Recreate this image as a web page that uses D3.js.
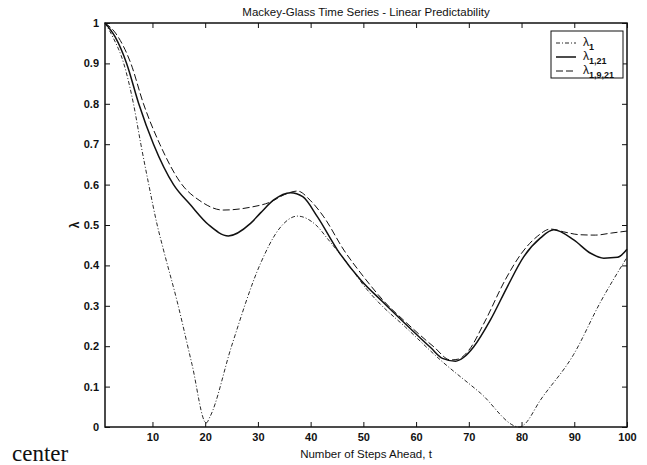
<!DOCTYPE html>
<html>
<head>
<meta charset="utf-8">
<script src="https://cdn.jsdelivr.net/npm/d3@7"></script>
<style>
  body { margin: 0; background: #fff; }
  text { font-family: 'Liberation Sans', Arial, sans-serif; fill: #111; }
</style>
</head>
<body>
<svg></svg>
<script>
// Dimensions
var width = 647;
var height = 465;
var plotLeft = 105, plotRight = 627, plotTop = 23, plotBottom = 427;

// Data
var xTicks = [10, 20, 30, 40, 50, 60, 70, 80, 90, 100];
var yTicks = [0, 0.1, 0.2, 0.3, 0.4, 0.5, 0.6, 0.7, 0.8, 0.9, 1];

var lam1T = [1, 2.5, 4.55, 6.4, 7.8, 9.3, 10.9, 12.1, 14.7, 17.5, 20.2, 20.9, 25, 30.5, 34, 37.5, 41, 43.4, 47.5, 50.7, 53, 58, 64.6, 72.2, 79.6, 80.4, 83.6, 89.9, 95, 100];
var lam1V = [1, 0.965, 0.9, 0.8, 0.7, 0.6, 0.5, 0.438, 0.31, 0.155, 0.01, 0.025, 0.2, 0.405, 0.49, 0.522, 0.5, 0.463, 0.396, 0.34, 0.307, 0.247, 0.166, 0.084, 0.0, 0.005, 0.067, 0.18, 0.31, 0.42];

var lam121T = [1, 2.9, 5.1, 7.4, 10.2, 14, 17.2, 20.7, 24.4, 28.6, 30.5, 33, 36.2, 38.5, 41.3, 45.1, 49.5, 53.9, 58, 62.8, 65, 67.5, 69, 70.9, 74.1, 77.3, 80.4, 83.6, 86.1, 89.9, 93.1, 95.6, 98.2, 100];
var lam121V = [1, 0.966, 0.9, 0.8, 0.7, 0.6, 0.55, 0.5, 0.473, 0.504, 0.53, 0.562, 0.58, 0.57, 0.52, 0.438, 0.364, 0.307, 0.255, 0.196, 0.17, 0.163, 0.172, 0.198, 0.265, 0.347, 0.421, 0.468, 0.488, 0.463, 0.43, 0.418, 0.42, 0.44];

var lam1921T = [1, 3, 5.9, 8.3, 11.4, 15.6, 19, 23.4, 28.6, 32.4, 35, 37.5, 40, 42.5, 46.3, 50.1, 54, 58, 63.4, 66.5, 68, 70, 73, 76.9, 80, 83, 85.5, 88, 91, 94, 97, 100];
var lam1921V = [1, 0.975, 0.9, 0.8, 0.7, 0.6, 0.56, 0.537, 0.544, 0.557, 0.575, 0.584, 0.56, 0.52, 0.438, 0.371, 0.31, 0.26, 0.198, 0.166, 0.168, 0.19, 0.26, 0.364, 0.43, 0.472, 0.49, 0.483, 0.476, 0.475, 0.48, 0.485];

var series = [
  { sub: '1', t: lam1T, v: lam1V, dash: '4,2,1,2', w: 0.9 },
  { sub: '1,21', t: lam121T, v: lam121V, dash: null, w: 1.5 },
  { sub: '1,9,21', t: lam1921T, v: lam1921V, dash: '7,3', w: 1 }
];

var svg = d3.select('svg')
  .attr('width', width)
  .attr('height', height);

var x = d3.scaleLinear().domain([1, 100]).range([plotLeft, plotRight]);
var y = d3.scaleLinear().domain([0, 1]).range([plotBottom, plotTop]);

// Axes with inward ticks, MATLAB style
svg.append('g')
  .attr('transform', 'translate(0,' + plotBottom + ')')
  .call(d3.axisBottom(x).tickValues(xTicks).tickSizeInner(-5).tickSizeOuter(0).tickPadding(6))
  .call(function (g) { g.select('.domain').remove(); });

svg.append('g')
  .attr('transform', 'translate(0,' + plotTop + ')')
  .call(d3.axisTop(x).tickValues(xTicks).tickSizeInner(-5).tickSizeOuter(0).tickFormat(''))
  .call(function (g) { g.select('.domain').remove(); });

svg.append('g')
  .attr('transform', 'translate(' + plotLeft + ',0)')
  .call(d3.axisLeft(y).tickValues(yTicks).tickSizeInner(-5).tickSizeOuter(0).tickPadding(6).tickFormat(d3.format('')))
  .call(function (g) { g.select('.domain').remove(); });

svg.append('g')
  .attr('transform', 'translate(' + plotRight + ',0)')
  .call(d3.axisRight(y).tickValues(yTicks).tickSizeInner(-5).tickSizeOuter(0).tickFormat(''))
  .call(function (g) { g.select('.domain').remove(); });

svg.selectAll('.tick text')
  .attr('font-size', 11)
  .attr('font-weight', 'bold')
  .attr('font-family', "'Liberation Sans', Arial, sans-serif");
svg.selectAll('.tick line').attr('stroke', '#111');

// Frame
svg.append('rect')
  .attr('x', plotLeft)
  .attr('y', plotTop)
  .attr('width', plotRight - plotLeft)
  .attr('height', plotBottom - plotTop)
  .attr('fill', 'none')
  .attr('stroke', '#111')
  .attr('stroke-width', 1.5);

// Lines
var line = d3.line()
  .x(function (d) { return x(d[0]); })
  .y(function (d) { return y(d[1]); })
  .curve(d3.curveMonotoneX);

series.forEach(function (s) {
  var pts = s.t.map(function (t, i) { return [t, s.v[i]]; });
  svg.append('path')
    .datum(pts)
    .attr('d', line)
    .attr('fill', 'none')
    .attr('stroke', '#111')
    .attr('stroke-width', s.w)
    .attr('stroke-dasharray', s.dash);
});

// Title and labels
svg.append('text')
  .attr('x', (plotLeft + plotRight) / 2)
  .attr('y', 16)
  .attr('text-anchor', 'middle')
  .attr('font-size', 11.5)
  .text('Mackey-Glass Time Series - Linear Predictability');

svg.append('text')
  .attr('x', (plotLeft + plotRight) / 2)
  .attr('y', 458)
  .attr('text-anchor', 'middle')
  .attr('font-size', 11.5)
  .text('Number of Steps Ahead, t');

svg.append('text')
  .attr('text-anchor', 'middle')
  .attr('transform', 'translate(79,225)rotate(-90)')
  .attr('font-size', 12)
  .attr('font-weight', 'bold')
  .text('λ');

svg.append('text')
  .attr('x', 12)
  .attr('y', 461)
  .attr('font-size', 23)
  .style('font-family', "'Liberation Serif', 'Times New Roman', serif")
  .text('center');

// Legend
var legend = svg.append('g');
legend.append('rect')
  .attr('x', 551)
  .attr('y', 31)
  .attr('width', 72)
  .attr('height', 47)
  .attr('fill', '#fff')
  .attr('stroke', '#111')
  .attr('stroke-width', 1);

series.forEach(function (s, i) {
  var ly = 43 + i * 14;
  legend.append('line')
    .attr('x1', 556).attr('x2', 576)
    .attr('y1', ly).attr('y2', ly)
    .attr('stroke', '#111')
    .attr('stroke-width', s.w)
    .attr('stroke-dasharray', s.dash);
  var t = legend.append('text')
    .attr('x', 583)
    .attr('y', ly + 3)
    .attr('font-size', 12);
  t.append('tspan').text('λ');
  t.append('tspan')
    .attr('dy', 4)
    .attr('font-size', 9)
    .attr('font-weight', 'bold')
    .text(s.sub);
});
</script>
</body>
</html>
